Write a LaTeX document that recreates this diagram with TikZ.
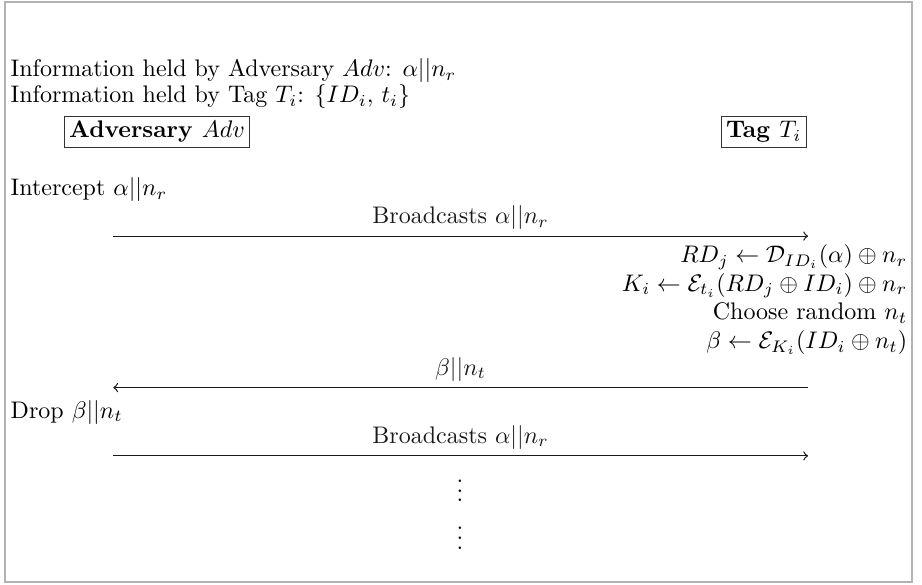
\documentclass[tikz,border=0pt]{standalone}
\usepackage{amsmath, amssymb}
\usepackage{tikz}

\begin{document}
\begin{tikzpicture}[every node/.style={inner sep=0pt},
  party/.style={draw=gray!40!black, line width=0.5pt, inner sep=2pt, font=\bfseries},
  msg/.style={->, gray!20!black, line width=0.5pt}]
  \useasboundingbox (0,0) rectangle (13.51,8.57);
  \draw[gray!60, line width=0.7pt] (0.07,0.04) rectangle (13.36,8.54);
  \node[anchor=west] (infoadv) at (0.15,7.53) {Information held by Adversary $Adv$: $\alpha||n_r$};
  \node[anchor=west] (infotag) at (0.15,7.15) {Information held by Tag $T_i$: $\{ID_i,\, t_i\}$};
  \node[party] (adv) at (2.30,6.64) {Adversary $Adv$};
  \node[party] (tag) at (11.19,6.64) {Tag $T_i$};
  \node[anchor=west] (intercept) at (0.15,5.79) {Intercept $\alpha||n_r$};
  \coordinate (a1) at (1.66,5.11);
  \coordinate (t1) at (11.84,5.11);
  \draw[msg] (a1) -- node[above=2.5pt] (m1) {Broadcasts $\alpha||n_r$} (t1);
  \node[anchor=east, align=right] (tagcalc) at (13.30,4.18) {$RD_j \leftarrow \mathcal{D}_{ID_i}(\alpha) \oplus n_r$\\
    $K_i \leftarrow \mathcal{E}_{t_i}(RD_j \oplus ID_i) \oplus n_r$\\
    Choose random $n_t$\\
    $\beta \leftarrow \mathcal{E}_{K_i}(ID_i \oplus n_t)$};
  \coordinate (t2) at (11.84,2.89);
  \coordinate (a2) at (1.66,2.89);
  \draw[msg] (t2) -- node[above=2.5pt] (m2) {$\beta||n_t$} (a2);
  \node[anchor=west] (drop) at (0.15,2.53) {Drop $\beta||n_t$};
  \coordinate (a3) at (1.66,1.89);
  \coordinate (t3) at (11.84,1.89);
  \draw[msg] (a3) -- node[above=2.5pt] (m3) {Broadcasts $\alpha||n_r$} (t3);
  \node (dots1) at (6.74,1.48) {$\vdots$};
  \node (dots2) at (6.74,0.79) {$\vdots$};
\end{tikzpicture}
\end{document}
